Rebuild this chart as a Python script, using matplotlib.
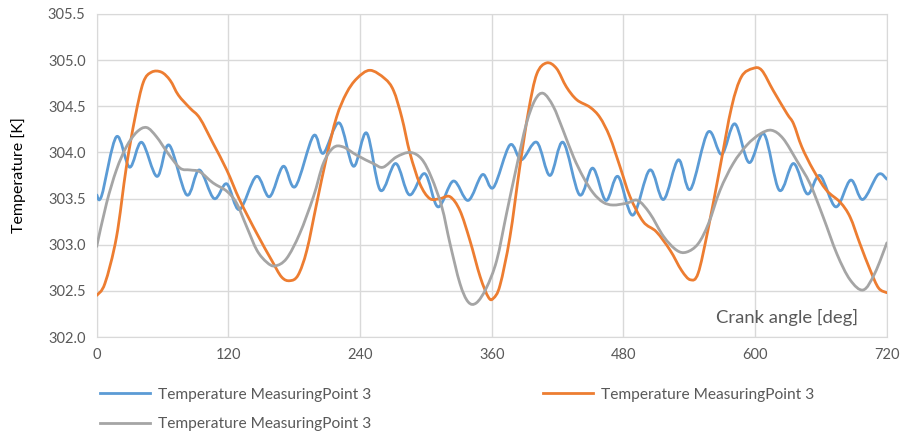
import matplotlib
matplotlib.use("Agg")
import matplotlib.pyplot as plt
import numpy as np
from matplotlib.path import Path
from matplotlib.patches import PathPatch
from matplotlib.lines import Line2D

plt.rcParams['font.family'] = ['Lato', 'DejaVu Sans']

# values (crank angle in deg, temperature in K)
blue_deg = [0, 4.5, 18, 30, 41, 55, 66, 82, 93.5, 107, 118.5, 130, 145.5, 157.5, 170, 181,
            197.5, 206.5, 221, 234, 246, 258.5, 272.5, 285, 299, 311, 325, 338.5, 351.5, 361.5,
            376.5, 387, 401, 413, 425, 440, 452, 464, 475, 488.5, 504, 516.5, 530, 541, 557,
            569.5, 581.5, 594.5, 608, 622, 635, 647.5, 659, 673.5, 687, 698, 712, 720]
blue_temp = [303.54, 303.53, 304.17, 303.84, 304.11, 303.74, 304.08, 303.54, 303.81, 303.50,
             303.66, 303.38, 303.74, 303.52, 303.85, 303.63, 304.18, 303.99, 304.32, 303.85,
             304.21, 303.59, 303.88, 303.54, 303.77, 303.41, 303.69, 303.48, 303.76, 303.62,
             304.08, 303.92, 304.11, 303.75, 304.11, 303.54, 303.83, 303.48, 303.74, 303.32,
             303.81, 303.49, 303.92, 303.60, 304.22, 303.98, 304.31, 303.89, 304.20, 303.59,
             303.88, 303.55, 303.75, 303.41, 303.70, 303.49, 303.76, 303.71]

orange_deg = [0, 7.5, 18, 27, 35, 42.5, 50, 59, 67, 74.5, 85, 94, 106, 118.5, 130.5, 146,
              159.5, 168.5, 176, 183.5, 191.5, 200.5, 209.5, 218.5, 227.5, 237, 249, 262.5,
              270.5, 278, 285.5, 294.5, 303.5, 313, 322, 331, 340, 349.5, 357, 361.5, 367.5,
              376.5, 385.5, 393.5, 401, 410, 419, 428, 437.5, 449.5, 458.5, 467.5, 477, 486,
              498, 510, 522.5, 533, 541, 548, 557, 568, 578.5, 587.5, 598, 606, 616.5, 629,
              635, 642.5, 653, 665, 677.5, 686.5, 695.5, 705, 712.5, 720]
orange_temp = [302.45, 302.58, 303.08, 303.84, 304.38, 304.76, 304.87, 304.87, 304.78, 304.62,
               304.48, 304.37, 304.10, 303.81, 303.48, 303.12, 302.83, 302.65, 302.61, 302.67,
               302.94, 303.45, 303.95, 304.38, 304.64, 304.80, 304.89, 304.80, 304.67, 304.38,
               303.99, 303.66, 303.50, 303.50, 303.52, 303.37, 303.05, 302.65, 302.43, 302.42,
               302.56, 303.08, 303.84, 304.45, 304.85, 304.97, 304.91, 304.71, 304.57, 304.49,
               304.38, 304.17, 303.84, 303.52, 303.25, 303.14, 302.94, 302.72, 302.62, 302.69,
               303.16, 303.84, 304.49, 304.82, 304.91, 304.89, 304.67, 304.42, 304.31, 304.06,
               303.81, 303.59, 303.46, 303.30, 303.01, 302.72, 302.53, 302.48]

grey_deg = [0, 9, 18, 27, 36.5, 45.5, 54.5, 65, 76, 85, 94, 106, 118.5, 127.5, 136.5, 146,
            155, 162.5, 173, 185, 197.5, 206.5, 215.5, 224.5, 237, 252, 261, 273, 285.5, 296,
            305, 314.5, 322, 331, 338.5, 346, 355, 364.5, 373.5, 382.5, 391.5, 399.5, 407, 416,
            425, 434.5, 443.5, 452.5, 461.5, 470.5, 483, 493, 504, 516.5, 528.5, 537.5, 548,
            557.5, 568, 580, 592.5, 604.5, 615, 625.5, 638, 650, 662, 674.5, 686.5, 698.5,
            709, 720]
grey_temp = [302.98, 303.45, 303.81, 304.06, 304.22, 304.27, 304.17, 303.99, 303.83, 303.81,
             303.79, 303.67, 303.58, 303.45, 303.20, 302.94, 302.81, 302.77, 302.85, 303.12,
             303.52, 303.88, 304.05, 304.06, 303.97, 303.88, 303.84, 303.95, 304.00, 303.93,
             303.73, 303.41, 303.01, 302.58, 302.38, 302.37, 302.53, 302.83, 303.34, 303.84,
             304.31, 304.57, 304.64, 304.50, 304.24, 303.95, 303.73, 303.56, 303.46, 303.43,
             303.45, 303.48, 303.34, 303.09, 302.94, 302.92, 303.01, 303.23, 303.59, 303.88,
             304.08, 304.20, 304.24, 304.15, 303.91, 303.66, 303.30, 302.90, 302.62, 302.51,
             302.69, 303.02]

labels = ["Temperature MeasuringPoint 3"] * 3
colors = ["#5B9BD5", "#ED7D31", "#A5A5A5"]
x_ticks = [0, 120, 240, 360, 480, 600, 720]
y_ticks = [302.0, 302.5, 303.0, 303.5, 304.0, 304.5, 305.0, 305.5]


def smooth_line(ax, x, y, color, lw):
  # smoothed line like the spreadsheet's: Catmull-Rom segments as cubic Beziers
  p = np.column_stack([x, y])
  p = np.vstack([p[0], p, p[-1]])
  verts = [p[1]]
  codes = [Path.MOVETO]
  for i in range(1, len(p) - 2):
    c1 = p[i] + (p[i + 1] - p[i - 1]) / 6.0
    c2 = p[i + 1] - (p[i + 2] - p[i]) / 6.0
    verts += [c1, c2, p[i + 1]]
    codes += [Path.CURVE4] * 3
  patch = PathPatch(Path(verts, codes), fill=False, edgecolor=color, lw=lw,
                    capstyle='round', joinstyle='round', zorder=3)
  ax.add_patch(patch)


fig = plt.figure(figsize=(9.01, 4.32), dpi=100)
ax = fig.add_axes([0.1073, 0.2199, 0.877, 0.7477])

series = [(blue_deg, blue_temp), (orange_deg, orange_temp), (grey_deg, grey_temp)]
for (xs, ys), c in zip(series, colors):
  smooth_line(ax, xs, ys, c, 2.0)

ax.set_xlim(0, 720)
ax.set_ylim(302.0, 305.5)
ax.set_xticks(x_ticks)
ax.set_yticks(y_ticks)
ax.set_yticklabels(["%.1f" % v for v in y_ticks])
ax.grid(True, color="#D9D9D9", lw=1.0)
ax.set_axisbelow(True)
for s in ax.spines.values():
  s.set_color("#D9D9D9")
ax.tick_params(length=0, colors="#595959", labelsize=10.5, pad=8)
ax.set_ylabel("Temperature [K]", fontsize=11.5, color="#000000", labelpad=16)
ax.text(694, 302.21, "Crank angle [deg]", ha='right', va='center',
        fontsize=13.3, color="#595959")

handles = [Line2D([], [], color=c, lw=2.0) for c in colors]
order = [0, 2, 1]
fig.legend([handles[i] for i in order], [labels[i] for i in order],
           loc='upper left', bbox_to_anchor=(0.111, 0.102), ncol=2, frameon=False,
           fontsize=11.2, handlelength=3.2, handletextpad=0.5, columnspacing=11.1,
           labelspacing=1.0, borderpad=0, borderaxespad=0, labelcolor="#595959")

fig.savefig("out.png", dpi=100)
